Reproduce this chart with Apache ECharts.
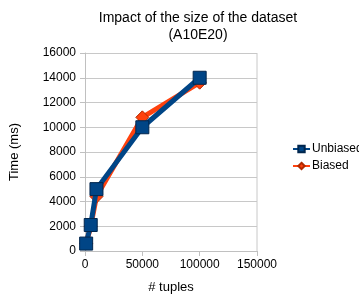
<!DOCTYPE html>
<html>
<head>
<meta charset="utf-8">
<script src="https://cdn.jsdelivr.net/npm/echarts@6/dist/echarts.min.js"></script>
<style>
  html, body { margin: 0; padding: 0; background: #fff; }
  #main { width: 359px; height: 304px; }
</style>
</head>
<body>
<div id="main"></div>
<script>
// data
var tuples = [1000, 5000, 10000, 50000, 100000];
var unbiased = [600, 2100, 5000, 10000, 14000];
var biased = [600, 2000, 4400, 10800, 13600];
var seriesNames = ['Unbiased', 'Biased'];

var chart = echarts.init(document.getElementById('main'));
var font = 'Liberation Sans, Arial, sans-serif';
var plain = function (v) { return String(v); };

var option = {
  animation: false,
  title: {
    text: 'Impact of the size of the dataset\n(A10E20)',
    left: 193,
    top: 5,
    textAlign: 'center',
    textStyle: { fontFamily: font, fontSize: 14, fontWeight: 'normal', color: '#000', lineHeight: 17 }
  },
  legend: {
    orient: 'vertical',
    left: 287,
    top: 138,
    itemWidth: 17,
    itemHeight: 8,
    itemGap: 5,
    data: seriesNames,
    textStyle: { fontFamily: font, fontSize: 12, color: '#000', padding: [0, 0, 0, -3] }
  },
  grid: { left: 85, right: 102, top: 53, bottom: 53 },
  xAxis: {
    type: 'value',
    min: 0, max: 150000, interval: 50000,
    name: '# tuples',
    nameLocation: 'middle',
    nameGap: 30,
    nameTextStyle: { fontFamily: font, fontSize: 13, color: '#000' },
    axisLine: { show: true, lineStyle: { color: '#c0c0c0' } },
    axisTick: { show: true, length: 5, lineStyle: { color: '#c0c0c0' } },
    splitLine: { show: false },
    axisLabel: { fontFamily: font, fontSize: 12, color: '#000', margin: 8, formatter: plain }
  },
  yAxis: {
    type: 'value',
    min: 0, max: 16000, interval: 2000,
    name: 'Time (ms)',
    nameLocation: 'middle',
    nameGap: 64,
    nameTextStyle: { fontFamily: font, fontSize: 13, color: '#000' },
    axisLine: { show: true, lineStyle: { color: '#c0c0c0' } },
    axisTick: { show: true, length: 5, lineStyle: { color: '#c0c0c0' } },
    splitLine: { show: true, lineStyle: { color: '#c8c8c8' } },
    axisLabel: { fontFamily: font, fontSize: 12, color: '#000', margin: 9, formatter: plain }
  },
  series: [
    {
      name: 'Unbiased',
      type: 'line',
      z: 3,
      data: tuples.map(function (t, i) { return [t, unbiased[i]]; }),
      symbol: 'rect',
      symbolSize: 13,
      lineStyle: { color: '#004586', width: 5 },
      itemStyle: { color: '#004586', borderColor: '#00264d', borderWidth: 1 }
    },
    {
      name: 'Biased',
      type: 'line',
      z: 2,
      data: tuples.map(function (t, i) { return [t, biased[i]]; }),
      symbol: 'diamond',
      symbolSize: 13,
      lineStyle: { color: '#ff420e', width: 5 },
      itemStyle: { color: '#ff420e', borderColor: '#b02a00', borderWidth: 1 }
    }
  ]
};

chart.setOption(option);
// right border of the plot box
var p0 = chart.convertToPixel({ gridIndex: 0 }, [150000, 0]);
var p1 = chart.convertToPixel({ gridIndex: 0 }, [150000, 16000]);
chart.setOption({
  graphic: [{
    type: 'line',
    shape: { x1: p0[0], y1: p0[1], x2: p1[0], y2: p1[1] },
    style: { stroke: '#c8c8c8', lineWidth: 1 }
  }]
});
</script>
</body>
</html>
